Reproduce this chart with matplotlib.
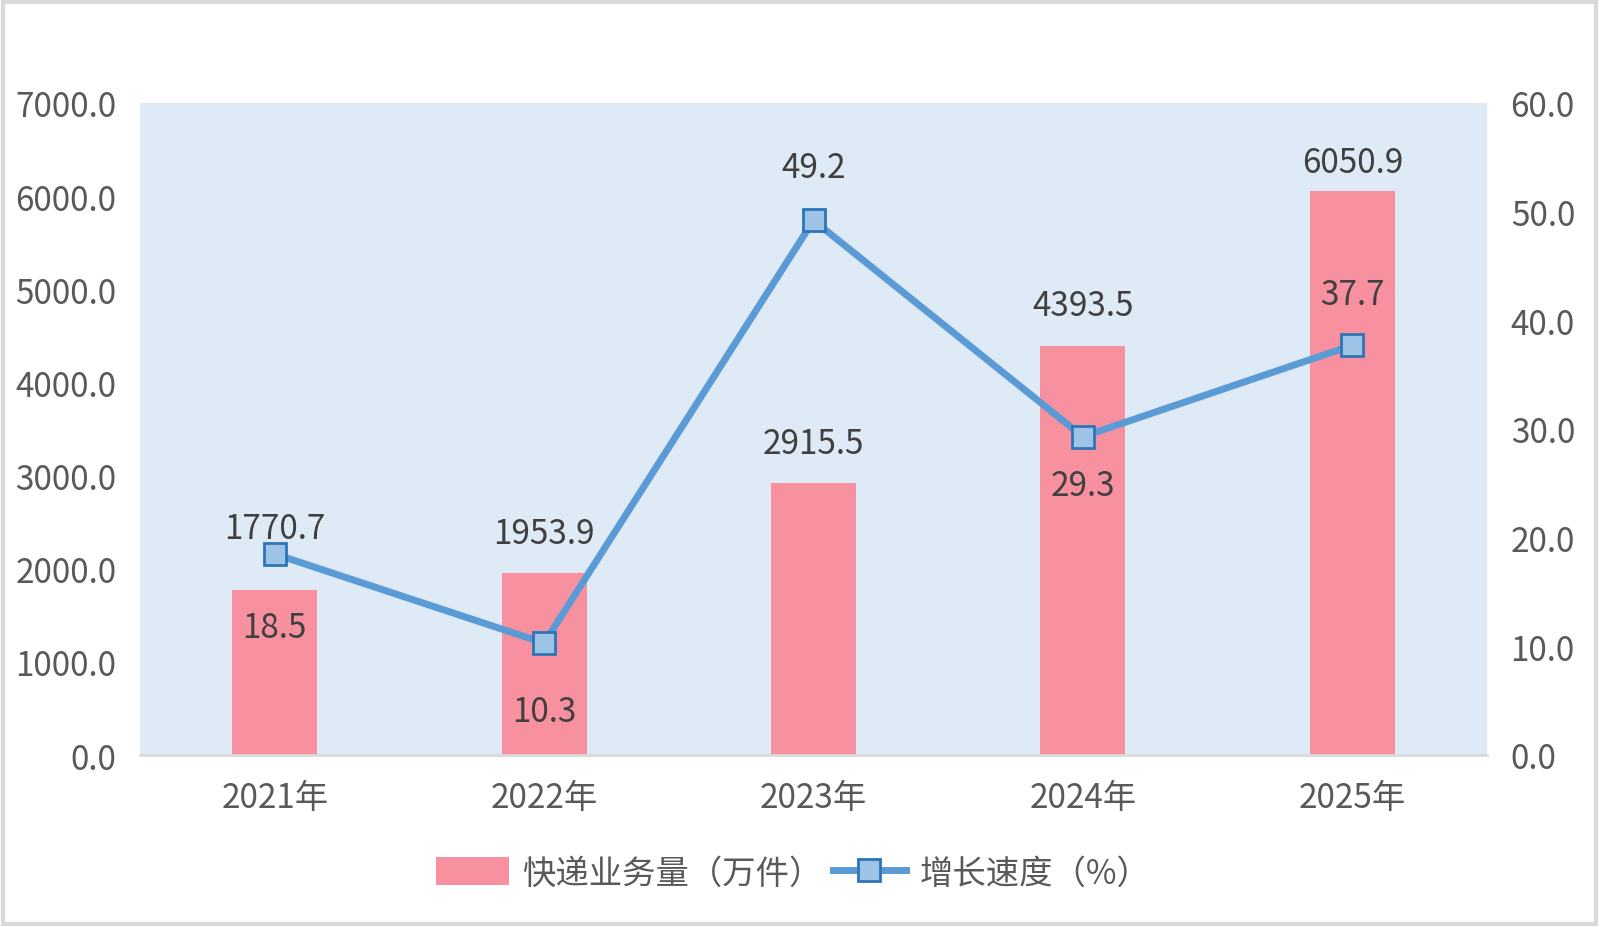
import matplotlib.pyplot as plt
from matplotlib.lines import Line2D
from matplotlib.patches import Patch, Rectangle

plt.rcParams['font.family'] = ['Noto Sans CJK SC', 'DejaVu Sans']

years = ["2021年", "2022年", "2023年", "2024年", "2025年"]
volume = [1770.7, 1953.9, 2915.5, 4393.5, 6050.9]
growth = [18.5, 10.3, 49.2, 29.3, 37.7]

# label offsets in pixels (Excel moved some labels to dodge the line)
bar_label_dy = [62, 40, 40, 40, 29]
line_label_dy = [-74, -68, 53, -49, 51]

bar_color = "#F7919F"
line_color = "#5B9BD5"
tick_color = "#595959"
label_color = "#404040"

fig = plt.figure(figsize=(16.01, 9.28), dpi=100)
ax = fig.add_axes([140 / 1601, 1 - 756 / 928, 1347 / 1601, 652 / 928])
ax.set_facecolor("#DEEAF6")

x = list(range(len(years)))
ax.bar(x, volume, width=0.315, color=bar_color, zorder=2)
ax.set_xlim(-0.5, len(years) - 0.5)
ax.set_ylim(0, 7000)
ax.set_yticks(range(0, 7001, 1000))
ax.set_yticklabels([f"{v:.1f}" for v in range(0, 7001, 1000)])
ax.set_xticks(x)
ax.set_xticklabels(years)

ax2 = ax.twinx()
ax2.plot(x, growth, color=line_color, lw=5, marker="s", ms=16,
         mfc="#9DC3E6", mec="#2E75B6", mew=2, zorder=3)
ax2.set_ylim(0, 60)
ax2.set_yticks(range(0, 61, 10))
ax2.set_yticklabels([f"{v:.1f}" for v in range(0, 61, 10)])

for a in (ax, ax2):
    for s in a.spines.values():
        s.set_visible(False)
    a.tick_params(length=0, labelsize=24, colors=tick_color)
ax.spines["bottom"].set_visible(True)
ax.spines["bottom"].set_color("#D9D9D9")
ax.spines["bottom"].set_linewidth(2)
ax.tick_params(axis="y", pad=17)
ax.tick_params(axis="x", pad=18)
ax2.tick_params(axis="y", pad=17)

for i, v in enumerate(volume):
    ax.annotate(f"{v:.1f}", (i, v), xytext=(0, bar_label_dy[i]),
                textcoords="offset pixels", ha="center", va="center",
                fontsize=24, color=label_color, zorder=5)
for i, v in enumerate(growth):
    ax2.annotate(f"{v:.1f}", (i, v), xytext=(0, line_label_dy[i]),
                 textcoords="offset pixels", ha="center", va="center",
                 fontsize=24, color=label_color, zorder=5)

handles = [
    Patch(facecolor=bar_color, label="快递业务量（万件）"),
    Line2D([], [], color=line_color, lw=5, marker="s", ms=16,
           mfc="#9DC3E6", mec="#2E75B6", mew=2, label="增长速度（%）"),
]
fig.legend(handles=handles, loc="center", bbox_to_anchor=(793 / 1601, 1 - 874 / 928),
           ncol=2, frameon=False, fontsize=24, labelcolor=tick_color,
           handlelength=2.2, handleheight=0.9, columnspacing=0.3, handletextpad=0.4)

fig.patches.append(Rectangle((0.002, 0.003), 0.995, 0.994, transform=fig.transFigure,
                             fill=False, edgecolor="#D9D9D9", lw=3))

fig.savefig("out.png", dpi=100)
